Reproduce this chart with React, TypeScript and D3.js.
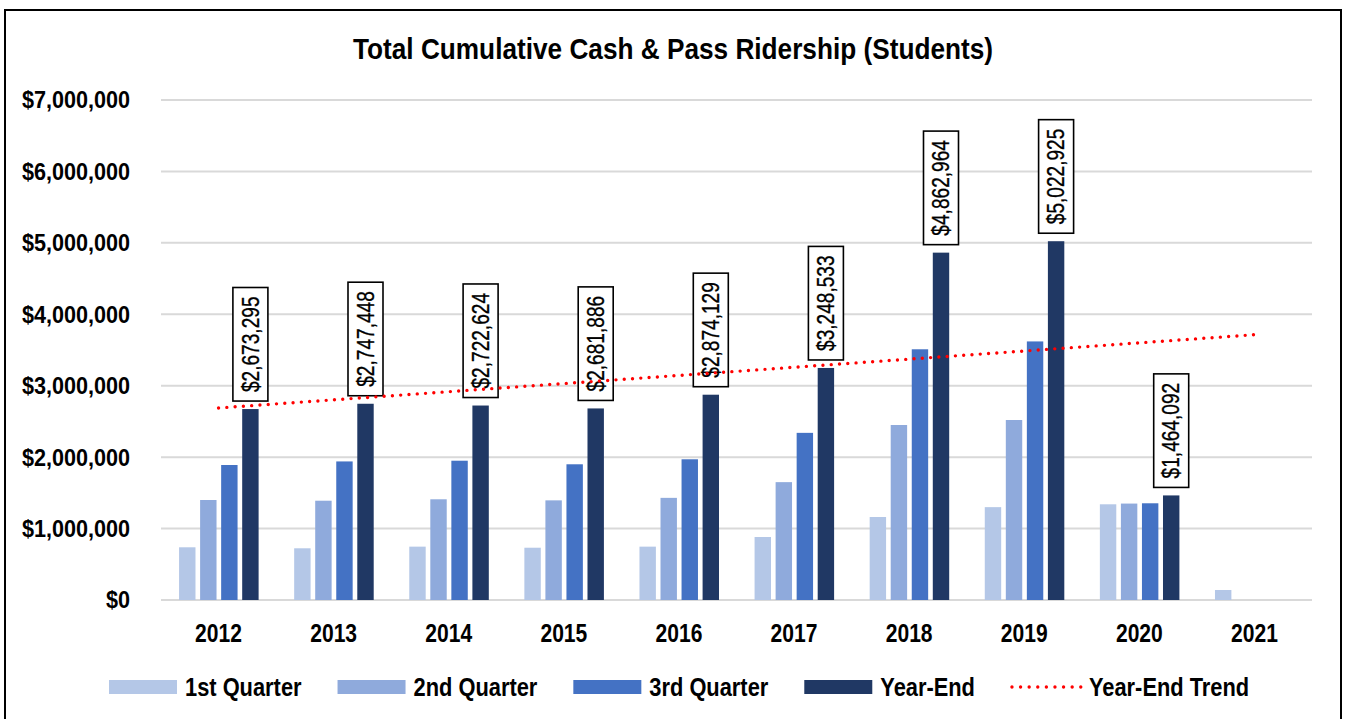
import React, { useEffect, useRef } from 'react';
import * as d3 from 'd3';

// values
const years = ['2012', '2013', '2014', '2015', '2016', '2017', '2018', '2019', '2020', '2021'];
const seriesNames = ['1st Quarter', '2nd Quarter', '3rd Quarter', 'Year-End'];
const q1 = [738000, 724000, 747000, 732000, 747000, 882000, 1162000, 1300000, 1340000, 140000];
const q2 = [1400000, 1390000, 1410000, 1395000, 1430000, 1650000, 2450000, 2520000, 1350000, null];
const q3 = [1890000, 1940000, 1950000, 1900000, 1970000, 2340000, 3510000, 3620000, 1354000, null];
const yearEnd = [2673295, 2747448, 2722624, 2681886, 2874129, 3248533, 4862964, 5022925, 1464092, null];
const yTicks = [0, 1000000, 2000000, 3000000, 4000000, 5000000, 6000000, 7000000];
const colors = ['#B4C7E7', '#8FAADC', '#4472C4', '#203864'];
const trendColor = '#FF0000';
const trendName = 'Year-End Trend';
const title = 'Total Cumulative Cash & Pass Ridership (Students)';

const W = 1346;
const H = 719;
const FONT = "'Liberation Sans', Arial, sans-serif";

// squeeze text horizontally to mimic the narrow font of the original
function squeeze(sel: any, factor: number) {
  sel.each(function (this: SVGTextElement) {
    const w = this.getComputedTextLength();
    this.setAttribute('textLength', String(w * factor));
    this.setAttribute('lengthAdjust', 'spacingAndGlyphs');
  });
}

const App = () => {
  const svgRef = useRef<SVGSVGElement>(null);

  useEffect(() => {
    const svg = d3.select(svgRef.current);
    svg.selectAll('*').remove();

    const margin = { top: 100, right: 34, bottom: 119, left: 161 };
    const innerW = W - margin.left - margin.right;
    const innerH = H - margin.top - margin.bottom;

    // outer frame (bottom edge is outside the picture)
    svg
      .append('rect')
      .attr('x', 5)
      .attr('y', 10)
      .attr('width', 1336)
      .attr('height', 740)
      .attr('fill', '#fff')
      .attr('stroke', '#000')
      .attr('stroke-width', 2);

    const g = svg.append('g').attr('transform', `translate(${margin.left},${margin.top})`);

    const x0 = d3.scaleBand().domain(years).range([0, innerW]).padding(0);
    const bw = x0.bandwidth();
    const x1 = d3
      .scaleBand()
      .domain(seriesNames)
      .range([bw * 0.157, bw * 0.848])
      .paddingInner(0.22)
      .paddingOuter(0);
    const y = d3.scaleLinear().domain([0, 7000000]).range([innerH, 0]);

    // gridlines
    g.selectAll('line.grid')
      .data(yTicks)
      .enter()
      .append('line')
      .attr('class', 'grid')
      .attr('x1', 0)
      .attr('x2', innerW)
      .attr('y1', (d) => y(d))
      .attr('y2', (d) => y(d))
      .attr('stroke', '#D9D9D9')
      .attr('stroke-width', 2);

    // y tick labels
    const yl = g
      .selectAll('text.ytick')
      .data(yTicks)
      .enter()
      .append('text')
      .attr('class', 'ytick')
      .attr('x', -31)
      .attr('y', (d) => y(d))
      .attr('dy', '0.35em')
      .attr('text-anchor', 'end')
      .attr('font-family', FONT)
      .attr('font-weight', 'bold')
      .attr('font-size', 24)
      .text((d) => '$' + d3.format(',')(d));
    squeeze(yl, 0.9);

    // x labels
    const xl = g
      .selectAll('text.xtick')
      .data(years)
      .enter()
      .append('text')
      .attr('class', 'xtick')
      .attr('x', (d) => x0(d)! + bw / 2)
      .attr('y', innerH + 42)
      .attr('text-anchor', 'middle')
      .attr('font-family', FONT)
      .attr('font-weight', 'bold')
      .attr('font-size', 26)
      .text((d) => d);
    squeeze(xl, 0.81);

    // bars
    const allSeries = [q1, q2, q3, yearEnd];
    const groups = g
      .selectAll('g.year')
      .data(years)
      .enter()
      .append('g')
      .attr('class', 'year')
      .attr('transform', (d) => `translate(${x0(d)},0)`);

    groups
      .selectAll('rect')
      .data((d) => seriesNames.map((s, k) => ({ s, k, v: allSeries[k][years.indexOf(d)] })))
      .enter()
      .filter((d) => d.v != null)
      .append('rect')
      .attr('x', (d) => x1(d.s)!)
      .attr('width', x1.bandwidth())
      .attr('y', (d) => y(d.v as number))
      .attr('height', (d) => innerH - y(d.v as number))
      .attr('fill', (d) => colors[d.k]);

    // data labels on year-end bars
    const labels = g
      .selectAll('g.dlabel')
      .data(yearEnd.map((v, i) => ({ v, year: years[i] })).filter((d) => d.v != null))
      .enter()
      .append('g')
      .attr('class', 'dlabel');

    labels.each(function (d: any) {
      const lg = d3.select(this);
      const cx = x0(d.year)! + x1('Year-End')! + x1.bandwidth() / 2;
      const bottom = y(d.v) - 8;
      const box = lg.append('rect');
      const t = lg
        .append('text')
        .attr('font-family', FONT)
        .attr('font-size', 23)
        .attr('text-anchor', 'middle')
        .attr('dy', '0.36em')
        .attr('stroke', '#000')
        .attr('stroke-width', 0.35)
        .text('$' + d3.format(',')(d.v));
      squeeze(t, 0.83);
      const len = +(t.attr('textLength') as string);
      const bh = len + 18;
      const cy = bottom - bh / 2;
      t.attr('transform', `translate(${cx},${cy}) rotate(-90)`);
      box
        .attr('x', cx - 17.5)
        .attr('y', bottom - bh)
        .attr('width', 35)
        .attr('height', bh)
        .attr('fill', '#fff')
        .attr('stroke', '#000')
        .attr('stroke-width', 1.6);
    });

    // linear trend of year-end values
    const pts = yearEnd
      .map((v, i) => [i, v] as [number, number | null])
      .filter((d) => d[1] != null) as [number, number][];
    const mx = d3.mean(pts, (d) => d[0])!;
    const my = d3.mean(pts, (d) => d[1])!;
    const slope =
      d3.sum(pts, (d) => (d[0] - mx) * (d[1] - my)) / d3.sum(pts, (d) => (d[0] - mx) ** 2);
    const icpt = my - slope * mx;
    const trendPts = [0, years.length - 1].map((i) => [x0(years[i])! + bw / 2, y(icpt + slope * i)]);

    g.append('path')
      .attr('d', d3.line()(trendPts as [number, number][]))
      .attr('fill', 'none')
      .attr('stroke', trendColor)
      .attr('stroke-width', 3.4)
      .attr('stroke-linecap', 'round')
      .attr('stroke-dasharray', '0 8.3');

    // title
    svg
      .append('text')
      .attr('x', 673)
      .attr('y', 59)
      .attr('text-anchor', 'middle')
      .attr('font-family', FONT)
      .attr('font-weight', 'bold')
      .attr('font-size', 30)
      .attr('textLength', 640)
      .attr('lengthAdjust', 'spacingAndGlyphs')
      .text(title);

    // legend
    const legend = svg.append('g');
    let lx = 109;
    const items = [
      ...seriesNames.map((s, k) => ({ name: s, color: colors[k], line: false })),
      { name: trendName, color: trendColor, line: true },
    ];
    items.forEach((it) => {
      if (it.line) {
        legend
          .append('line')
          .attr('x1', lx + 1)
          .attr('x2', lx + 70)
          .attr('y1', 687)
          .attr('y2', 687)
          .attr('stroke', it.color)
          .attr('stroke-width', 3.4)
          .attr('stroke-linecap', 'round')
          .attr('stroke-dasharray', '0 8.6');
        lx += 2;
      } else {
        legend
          .append('rect')
          .attr('x', lx)
          .attr('y', 680)
          .attr('width', 68)
          .attr('height', 14)
          .attr('fill', it.color);
      }
      const t = legend
        .append('text')
        .attr('x', lx + 76)
        .attr('y', 696)
        .attr('font-family', FONT)
        .attr('font-weight', 'bold')
        .attr('font-size', 26)
        .text(it.name);
      squeeze(t, 0.84);
      lx += 76 + +(t.attr('textLength') as string) + 36;
    });

    return () => {
      svg.selectAll('*').remove();
    };
  }, []);

  return (
    <svg
      ref={svgRef}
      width={W}
      height={H}
      style={{ position: 'absolute', left: 0, top: 0, background: '#fff' }}
    ></svg>
  );
};

export default App;
